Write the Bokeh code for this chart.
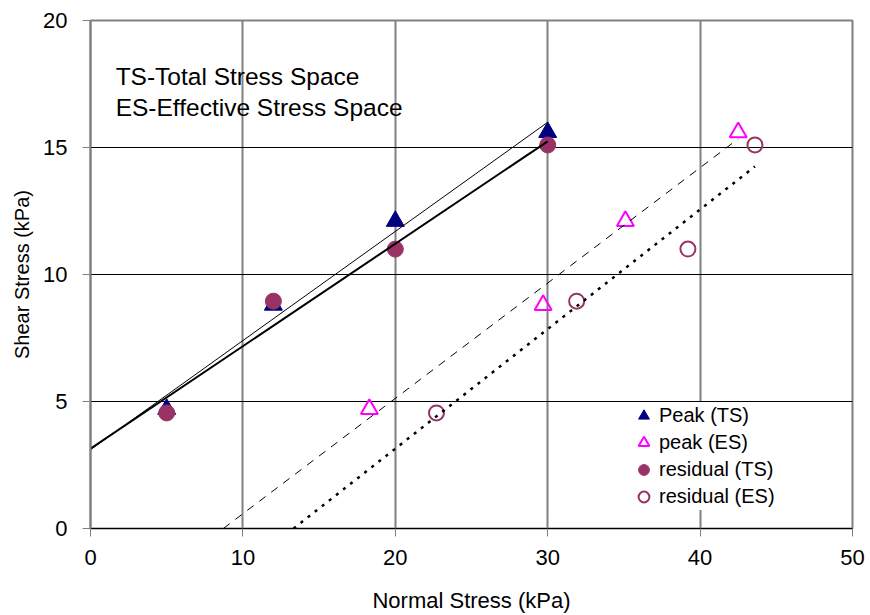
import numpy as np
from bokeh.plotting import figure
from bokeh.models import Range1d, Legend, LegendItem, Label, FixedTicker
from bokeh.embed import file_html
from bokeh.resources import INLINE

# Shear box results: normal stress vs shear stress (kPa)
peak_ts_normal = [5, 12, 20, 30]
peak_ts_shear = [4.7, 8.8, 12.1, 15.6]
residual_ts_normal = [5, 12, 20, 30]
residual_ts_shear = [4.55, 8.95, 11.0, 15.1]
peak_es_normal = [18.3, 29.7, 35.1, 42.5]
peak_es_shear = [4.7, 8.8, 12.1, 15.6]
residual_es_normal = [22.7, 31.9, 39.2, 43.6]
residual_es_shear = [4.55, 8.95, 11.0, 15.1]

x_ticks = [0, 10, 20, 30, 40, 50]
y_ticks = [0, 5, 10, 15, 20]

FONT = "Liberation Sans"
NAVY = "#000080"
MAGENTA = "#FF00FF"
PLUM = "#993366"
GREY = "#808080"


def envelope(xs, ys):
    """Least-squares failure envelope, drawn from the axes to the last test."""
    slope, c = np.polyfit(xs, ys, 1)
    x0 = 0.0 if c >= 0 else -c / slope
    x1 = max(xs)
    return [x0, x1], [slope * x0 + c, slope * x1 + c]


p = figure(
    width=870, height=615,
    x_range=Range1d(0, 50), y_range=Range1d(0, 20),
    output_backend="svg", toolbar_location=None,
    min_border_left=90, min_border_right=18,
    min_border_top=20, min_border_bottom=87,
    background_fill_color="white", border_fill_color="white",
)
p.outline_line_color = GREY
p.outline_line_width = 2

# grid
p.xgrid.ticker = FixedTicker(ticks=[10, 20, 30, 40])
p.xgrid.grid_line_color = GREY
p.xgrid.grid_line_width = 2
p.ygrid.ticker = FixedTicker(ticks=[0, 5, 10, 15])
p.ygrid.grid_line_color = "black"
p.ygrid.grid_line_width = 1

# axes
p.xaxis.ticker = FixedTicker(ticks=x_ticks)
p.yaxis.ticker = FixedTicker(ticks=y_ticks)
for ax in (p.xaxis[0], p.yaxis[0]):
    ax.major_tick_in = 0
    ax.major_tick_out = 8
    ax.minor_tick_in = 0
    ax.minor_tick_out = 0
    ax.major_tick_line_color = GREY
    ax.major_tick_line_width = 1
    ax.major_label_text_font = FONT
    ax.major_label_text_font_size = "22px"
    ax.major_label_text_color = "black"
    ax.axis_label_text_font = FONT
    ax.axis_label_text_font_style = "normal"
    ax.axis_label_text_color = "black"
p.xaxis.axis_label_text_font_size = "22px"
p.yaxis.axis_label_text_font_size = "20px"
p.xaxis.axis_line_color = "black"
p.xaxis.axis_line_width = 1
p.yaxis.axis_line_color = GREY
p.yaxis.axis_line_width = 2
p.xaxis.axis_label = "Normal Stress (kPa)"
p.yaxis.axis_label = "Shear Stress (kPa)"
p.xaxis.major_label_standoff = 13
p.yaxis.major_label_standoff = 15
p.xaxis.axis_label_standoff = 20
p.yaxis.axis_label_standoff = 7

# test points
r_peak_ts = p.scatter(peak_ts_normal, peak_ts_shear, marker="triangle", size=18,
                      fill_color=NAVY, line_color=NAVY)
r_res_ts = p.scatter(residual_ts_normal, residual_ts_shear, marker="circle", size=16,
                     fill_color=PLUM, line_color=PLUM)
r_peak_es = p.scatter(peak_es_normal, peak_es_shear, marker="triangle", size=17,
                      fill_color=None, line_color=MAGENTA, line_width=2)
r_res_es = p.scatter(residual_es_normal, residual_es_shear, marker="circle", size=15,
                     fill_color=None, line_color=PLUM, line_width=2)

# failure envelopes
ex, ey = envelope(peak_ts_normal, peak_ts_shear)
p.line(ex, ey, line_color="black", line_width=1)
ex, ey = envelope(residual_ts_normal, residual_ts_shear)
p.line(ex, ey, line_color="black", line_width=2)
ex, ey = envelope(peak_es_normal, peak_es_shear)
p.line(ex, ey, line_color="black", line_width=1, line_dash="8 7")
ex, ey = envelope(residual_es_normal, residual_es_shear)
p.line(ex, ey, line_color="black", line_width=2.5, line_dash="3 6")

# notes
for txt, yb in (("TS-Total Stress Space", 17.81), ("ES-Effective Stress Space", 16.57)):
    p.add_layout(Label(x=1.65, y=yb, text=txt, text_font=FONT, text_font_size="24.5px",
                       text_color="black", text_baseline="alphabetic", text_align="left"))

legend = Legend(
    items=[
        LegendItem(label="Peak (TS)", renderers=[r_peak_ts]),
        LegendItem(label="peak (ES)", renderers=[r_peak_es]),
        LegendItem(label="residual (TS)", renderers=[r_res_ts]),
        LegendItem(label="residual (ES)", renderers=[r_res_es]),
    ],
    location=(540, 18),
    orientation="vertical",
    background_fill_color="white", background_fill_alpha=1.0,
    border_line_color=None,
    padding=10, margin=0, spacing=0,
    glyph_width=27, glyph_height=27, label_height=27,
    label_standoff=2,
    label_text_font=FONT, label_text_font_size="20px", label_text_color="black",
)
p.add_layout(legend)

open("out.html", "w").write(file_html(p, INLINE))
